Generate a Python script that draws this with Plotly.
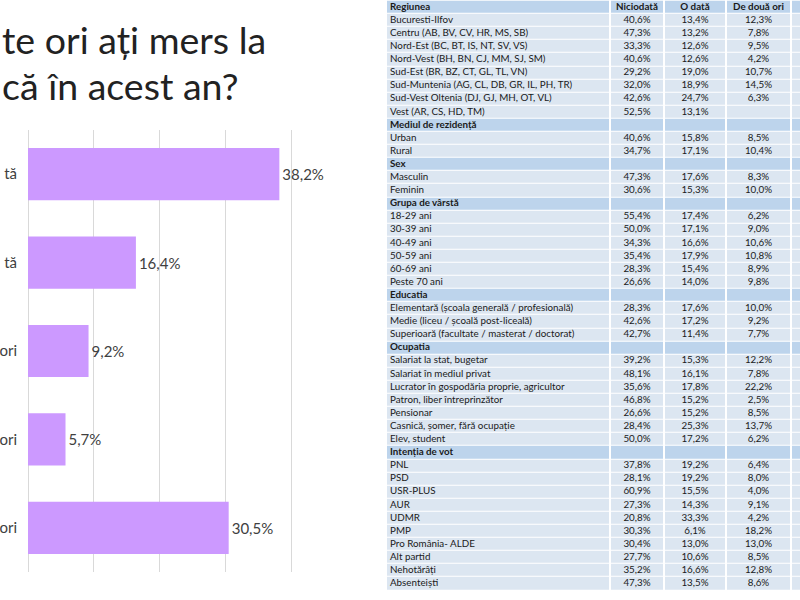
import plotly.graph_objects as go

# ---- bar chart data ----
categories = ["Niciodată", "O dată", "De două ori", "De trei ori", "De mai multe ori"]
visible_tick_labels = ["tă", "tă", "ori", "ori", "ori"]   # the parts the cropped picture shows
values = [38.2, 16.4, 9.2, 5.7, 30.5]
value_labels = ["38,2%", "16,4%", "9,2%", "5,7%", "30,5%"]
title_line1 = "te ori ați mers la"
title_line2 = "că în acest an?"

# ---- table data ----
table_header = ["Regiunea", "Niciodată", "O dată", "De două ori"]
row_labels = [
    "Bucuresti-Ilfov", "Centru (AB, BV, CV, HR, MS, SB)", "Nord-Est (BC, BT, IS, NT, SV, VS)",
    "Nord-Vest (BH, BN, CJ, MM, SJ, SM)", "Sud-Est (BR, BZ, CT, GL, TL, VN)",
    "Sud-Muntenia (AG, CL, DB, GR, IL, PH, TR)", "Sud-Vest Oltenia (DJ, GJ, MH, OT, VL)",
    "Vest (AR, CS, HD, TM)",
    "Mediul de rezidență", "Urban", "Rural",
    "Sex", "Masculin", "Feminin",
    "Grupa de vârstă", "18-29 ani", "30-39 ani", "40-49 ani", "50-59 ani", "60-69 ani", "Peste 70 ani",
    "Educatia", "Elementară (școala generală / profesională)", "Medie (liceu / școală post-liceală)",
    "Superioară (facultate / masterat / doctorat)",
    "Ocupatia", "Salariat la stat, bugetar", "Salariat în mediul privat",
    "Lucrator în gospodăria proprie, agricultor", "Patron, liber întreprinzător", "Pensionar",
    "Casnică, șomer, fără ocupație", "Elev, student",
    "Intenția de vot", "PNL", "PSD", "USR-PLUS", "AUR", "UDMR", "PMP", "Pro România- ALDE",
    "Alt partid", "Nehotărâți", "Absenteiști",
]
section_rows = ["Mediul de rezidență", "Sex", "Grupa de vârstă", "Educatia", "Ocupatia", "Intenția de vot"]
col_niciodata = [
    "40,6%", "47,3%", "33,3%", "40,6%", "29,2%", "32,0%", "42,6%", "52,5%",
    "", "40,6%", "34,7%",
    "", "47,3%", "30,6%",
    "", "55,4%", "50,0%", "34,3%", "35,4%", "28,3%", "26,6%",
    "", "28,3%", "42,6%", "42,7%",
    "", "39,2%", "48,1%", "35,6%", "46,8%", "26,6%", "28,4%", "50,0%",
    "", "37,8%", "28,1%", "60,9%", "27,3%", "20,8%", "30,3%", "30,4%", "27,7%", "35,2%", "47,3%",
]
col_o_data = [
    "13,4%", "13,2%", "12,6%", "12,6%", "19,0%", "18,9%", "24,7%", "13,1%",
    "", "15,8%", "17,1%",
    "", "17,6%", "15,3%",
    "", "17,4%", "17,1%", "16,6%", "17,9%", "15,4%", "14,0%",
    "", "17,6%", "17,2%", "11,4%",
    "", "15,3%", "16,1%", "17,8%", "15,2%", "15,2%", "25,3%", "17,2%",
    "", "19,2%", "19,2%", "15,5%", "14,3%", "33,3%", "6,1%", "13,0%", "10,6%", "16,6%", "13,5%",
]
col_de_doua_ori = [
    "12,3%", "7,8%", "9,5%", "4,2%", "10,7%", "14,5%", "6,3%", "",
    "", "8,5%", "10,4%",
    "", "8,3%", "10,0%",
    "", "6,2%", "9,0%", "10,6%", "10,8%", "8,9%", "9,8%",
    "", "10,0%", "9,2%", "7,7%",
    "", "12,2%", "7,8%", "22,2%", "2,5%", "8,5%", "13,7%", "6,2%",
    "", "6,4%", "8,0%", "4,0%", "9,1%", "4,2%", "18,2%", "13,0%", "8,5%", "12,8%", "8,6%",
]

W, H = 800, 600
BAR_COLOR = "#CC99FF"
LIGHT = "#DCE6F1"
DARK = "#BDD4EC"
TXT = "#1A1A1A"
TFONT = "Lato"
TSIZE = 9.8

fig = go.Figure()

# ---------------- bar chart ----------------
fig.add_trace(go.Bar(
    x=values, y=categories, orientation="h",
    marker=dict(color=BAR_COLOR, line=dict(width=0)),
    width=0.59,
    text=value_labels, textposition="outside",
    textfont=dict(family="Lato", size=15, color="#404040"),
    cliponaxis=False, hoverinfo="skip",
    xaxis="x", yaxis="y",
))

# ---------------- table (heatmap cells + text) ----------------
all_labels = [table_header[0]] + row_labels
all_c1 = [table_header[1]] + col_niciodata
all_c2 = [table_header[2]] + col_o_data
all_c3 = [table_header[3]] + col_de_doua_ori
n_rows = len(all_labels)
dark_row = [True] + [lbl in section_rows for lbl in row_labels]

col_edges = [0, 224, 278, 340, 405, 430]           # px from table's left edge
n_cols = len(col_edges) - 1
z = [[1 if d else 0 for _ in range(n_cols)] for d in dark_row]
row_edges = [r - 0.5 for r in range(n_rows + 1)]

fig.add_trace(go.Heatmap(
    z=z, x=col_edges, y=row_edges,
    colorscale=[[0, LIGHT], [1, DARK]], zmin=0, zmax=1,
    showscale=False, xgap=2, ygap=1, hoverinfo="skip",
    xaxis="x2", yaxis="y2",
))


def fmt(t, bold):
    return f"<b>{t}</b>" if (bold and t) else t


fig.add_trace(go.Scatter(
    x=[4] * n_rows, y=list(range(n_rows)),
    text=[fmt(t, d) for t, d in zip(all_labels, dark_row)],
    mode="text", textposition="middle right",
    textfont=dict(family=TFONT, size=TSIZE, color=TXT),
    hoverinfo="skip", xaxis="x2", yaxis="y2", cliponaxis=False,
))
for ci, col in enumerate([all_c1, all_c2, all_c3], start=1):
    cx = (col_edges[ci] + col_edges[ci + 1]) / 2
    fig.add_trace(go.Scatter(
        x=[cx] * n_rows, y=list(range(n_rows)),
        text=[fmt(t, r == 0) for r, t in enumerate(col)],
        mode="text", textposition="middle center",
        textfont=dict(family=TFONT, size=TSIZE, color=TXT),
        hoverinfo="skip", xaxis="x2", yaxis="y2", cliponaxis=False,
    ))

# ---------------- title (visible part of the cropped slide) ----------------
fig.add_annotation(
    text=title_line1, xref="paper", yref="paper", x=0, y=1 - 40 / H,
    xanchor="left", yanchor="middle", showarrow=False,
    font=dict(family="Lato", size=37.5, color="#222222"),
)
fig.add_annotation(
    text=title_line2, xref="paper", yref="paper", x=0, y=1 - 86 / H,
    xanchor="left", yanchor="middle", showarrow=False,
    font=dict(family="Lato", size=37.5, color="#222222"),
)

ROW_PX = 13.1
ROW0_CENTER = 7.3
top_r = -ROW0_CENTER / ROW_PX
bot_r = (H - ROW0_CENTER) / ROW_PX

fig.update_layout(
    width=W, height=H,
    margin=dict(l=0, r=0, t=0, b=0, pad=0),
    paper_bgcolor="white", plot_bgcolor="white",
    showlegend=False,
    xaxis=dict(
        domain=[28 / W, 357 / W], range=[0, 50], dtick=10, tick0=0,
        showgrid=True, gridcolor="#D9D9D9", gridwidth=1,
        zeroline=True, zerolinecolor="#D9D9D9", zerolinewidth=1,
        showticklabels=False, showline=False, fixedrange=True,
        anchor="y",
    ),
    yaxis=dict(
        domain=[(H - 572) / H, (H - 130) / H],
        autorange="reversed", automargin=False,
        showgrid=False, zeroline=False, showline=False,
        ticks="", ticklabelstandoff=10,
        tickvals=categories, ticktext=visible_tick_labels,
        tickfont=dict(family="Lato", size=15, color="#404040"),
        fixedrange=True, anchor="x",
    ),
    xaxis2=dict(
        domain=[386 / W, 1.0], range=[0, W - 386], anchor="y2",
        visible=False, fixedrange=True,
    ),
    yaxis2=dict(
        domain=[0, 1], range=[bot_r, top_r], anchor="x2",
        visible=False, fixedrange=True,
    ),
)

fig.write_html(
    "out.html",
    config={"displayModeBar": False},
    post_script="document.body.style.margin='0';document.body.style.padding='0';",
)
